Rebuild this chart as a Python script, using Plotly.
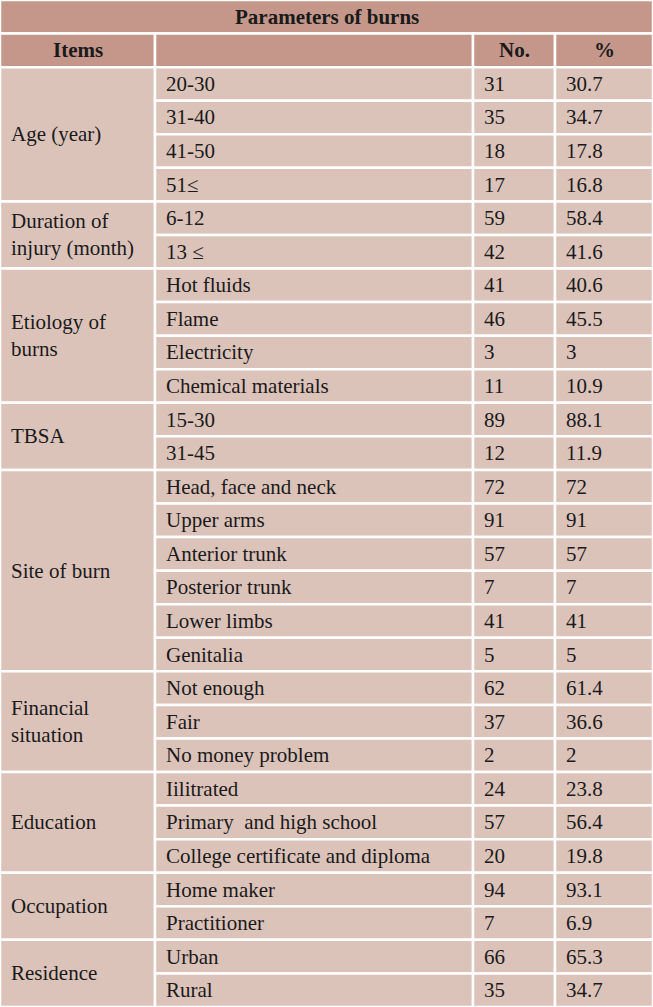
import plotly.graph_objects as go

# ---- data ----
title = "Parameters of burns"
header = ["Items", "", "No.", "%"]
groups = ["Age (year)", "Duration of<br>injury (month)", "Etiology of<br>burns", "TBSA",
          "Site of burn", "Financial<br>situation", "Education", "Occupation", "Residence"]
group_sizes = [4, 2, 4, 2, 6, 3, 3, 2, 2]
subitems = ["20-30", "31-40", "41-50", "51≤",
            "6-12", "13 ≤",
            "Hot fluids", "Flame", "Electricity", "Chemical materials",
            "15-30", "31-45",
            "Head, face and neck", "Upper arms", "Anterior trunk", "Posterior trunk", "Lower limbs", "Genitalia",
            "Not enough", "Fair", "No money problem",
            "Iilitrated", "Primary  and high school", "College certificate and diploma",
            "Home maker", "Practitioner",
            "Urban", "Rural"]
counts = ["31", "35", "18", "17", "59", "42", "41", "46", "3", "11", "89", "12",
          "72", "91", "57", "7", "41", "5", "62", "37", "2", "24", "57", "20", "94", "7", "66", "35"]
percents = ["30.7", "34.7", "17.8", "16.8", "58.4", "41.6", "40.6", "45.5", "3", "10.9", "88.1", "11.9",
            "72", "91", "57", "7", "41", "5", "61.4", "36.6", "2", "23.8", "56.4", "19.8", "93.1", "6.9",
            "65.3", "34.7"]

# ---- style ----
W, H = 653, 1007
col_edges = [0, 155, 473, 555, 653]
HEAD_FILL = "#c4978a"
BODY_FILL = "#dcc3ba"
LINE = "white"
LW = 2.5
FONT = "Liberation Serif"
FS = 21
TXT = "#1a1a1a"
PADX = 9

n_rows = 2 + len(subitems)
shapes, ann = [], []

def cell(x0, x1, r0, r1, fill):
    shapes.append(dict(type="rect", x0=x0, x1=x1, y0=r0, y1=r1, xref="x", yref="y",
                       fillcolor=fill, line=dict(color=LINE, width=LW), layer="below"))

def text(x, y, s, anchor="left", bold=False):
    ann.append(dict(x=x, y=y, xref="x", yref="y", text=f"<b>{s}</b>" if bold else s,
                    showarrow=False, xanchor=anchor, yanchor="middle", align="left",
                    font=dict(family=FONT, size=FS, color=TXT)))

# title row
cell(col_edges[0], col_edges[-1], 0, 1, HEAD_FILL)
text((col_edges[0] + col_edges[-1]) / 2, 0.5, title, "center", True)
# header row
for i, h in enumerate(header):
    cell(col_edges[i], col_edges[i + 1], 1, 2, HEAD_FILL)
    if h:
        text((col_edges[i] + col_edges[i + 1]) / 2, 1.5, h, "center", True)

# groups
r = 2
for g, n in zip(groups, group_sizes):
    cell(col_edges[0], col_edges[1], r, r + n, BODY_FILL)
    text(col_edges[0] + PADX, r + n / 2, g)
    r += n

# detail rows
for i, (s, c, p) in enumerate(zip(subitems, counts, percents)):
    rr = 2 + i
    for j, v in zip([1, 2, 3], [s, c, p]):
        cell(col_edges[j], col_edges[j + 1], rr, rr + 1, BODY_FILL)
        text(col_edges[j] + PADX, rr + 0.5, v)

fig = go.Figure()
fig.update_layout(width=W, height=H, margin=dict(l=0, r=0, t=0, b=0),
                  paper_bgcolor="white", plot_bgcolor="white",
                  shapes=shapes, annotations=ann, showlegend=False,
                  xaxis=dict(range=[0, W], visible=False, fixedrange=True),
                  yaxis=dict(range=[n_rows, 0], visible=False, fixedrange=True))
fig.write_html("out.html", config={"displayModeBar": False},
               post_script="document.body.style.margin='0';document.body.style.overflow='hidden';")
